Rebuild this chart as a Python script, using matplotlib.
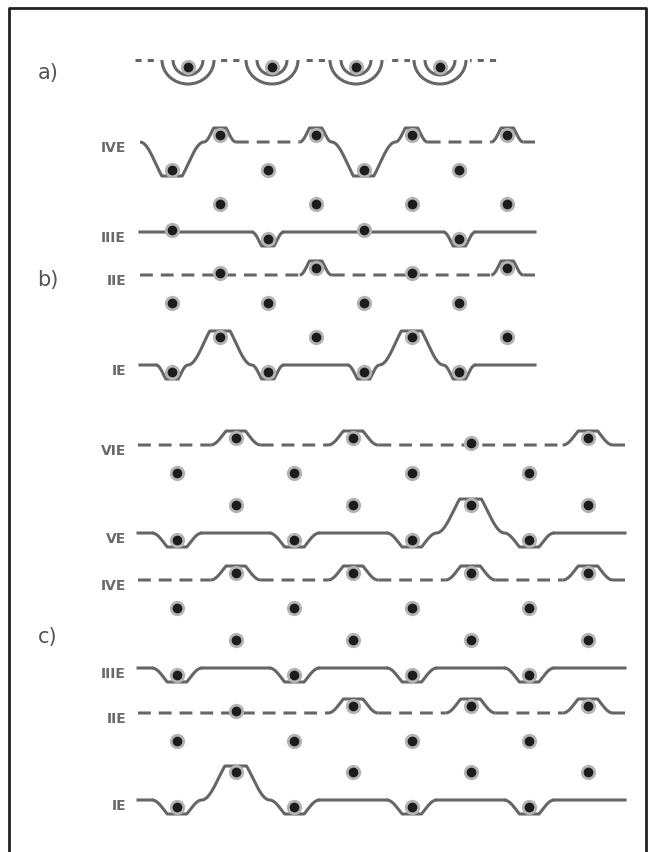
import numpy as np
import matplotlib
matplotlib.use("Agg")
import matplotlib.pyplot as plt
from matplotlib.patches import Arc

# ── Diagram content ──────────────────────────────────────────────────────────
# one character per beat:
#   'n' dot on the line with a small notch, 'o' dot sitting on the line,
#   'X' line makes an excursion to a dot on the other level, '.' free dot on the other level
B_LABELS = ["IVE", "IIIE", "IIE", "IE"]
B_PATTERNS = ["Xn.nXn.n", "o.n.o.n.", ".o.n.o.n", "nXn.nXn."]
B_DASHED = [True, False, True, False]

C_LABELS = ["VIE", "VE", "IVE", "IIIE", "IIE", "IE"]
C_PATTERNS = [".n.n.o.n", "n.n.nXn.", ".n.n.n.n", "n.n.n.n.", ".o.n.n.n", "nXn.n.n."]
C_DASHED = [True, False, True, False, True, False]

A_UNITS = 4
PANEL_LABELS = ["a)", "b)", "c)"]

# ── Layout (pixels) ──────────────────────────────────────────────────────────
W, H = 655, 852
LINE_C = "#666666"
DOT_C = "#1c1c1c"
LW = 2.2

B_ROW_Y = [142, 232, 275, 365]
C_ROW_Y = [445, 533, 580, 668, 713, 800]


def bump(u, k=1.35):
    u = np.asarray(u)
    f = np.clip(k * (0.5 + 0.5 * np.cos(np.pi * np.clip(u, -1, 1))), 0, 1)
    return np.where(np.abs(u) < 1, f, 0.0)


def draw_row(ax, label, pattern, dashed, yb, x0, step, xa, xb, n_hw, x_hw, gap):
    xs = x0 + step * np.arange(len(pattern))
    s = -1 if dashed else 1          # notch direction (pixel y grows downward)
    yo = yb - s * gap                # other level
    ext = yo - s * 6                 # extreme of an excursion

    xx = np.linspace(xa, xb, 1500)
    dy = np.zeros_like(xx)
    for xc, ev in zip(xs, pattern):
        if ev == "n":
            dy += s * 14 * bump((xx - xc) / n_hw, 1.5)
        elif ev == "X":
            dy += (ext - yb) * bump((xx - xc) / x_hw, 1.3)
    bent = np.abs(dy) > 1e-6
    shaped = bent | np.roll(bent, 1) | np.roll(bent, -1)
    yy = yb + dy
    ax.plot(xx, np.where(shaped, yy, np.nan), color=LINE_C, lw=LW,
            solid_capstyle="butt", zorder=2)
    flat = np.where(~bent, yb, np.nan)
    if dashed:
        ax.plot(xx, flat, color=LINE_C, lw=LW, dashes=(4.2, 2.6), zorder=2)
    else:
        ax.plot(xx, flat, color=LINE_C, lw=LW, zorder=2)

    for xc, ev in zip(xs, pattern):
        if ev == "n":
            yd = yb + s * 7
        elif ev == "o":
            yd = yb - 2
        else:
            yd = yo
        ax.plot(xc, yd, "o", ms=11, color="#b4b4b4", mec="none", zorder=3)
        ax.plot(xc, yd, "o", ms=7, color=DOT_C, mec="none", zorder=4)

    ax.text(126, yb + 6, label, ha="right", va="center", fontsize=10,
            fontweight="bold", color="#6a6a6a")


fig = plt.figure(figsize=(W / 100, H / 100), dpi=100)
ax = fig.add_axes([0, 0, 1, 1])
ax.set_xlim(0, W)
ax.set_ylim(H, 0)
ax.axis("off")

# frame
ax.plot([9, 9, 646, 646], [H, 8, 8, H], color="#222222", lw=2.0)

# ── a) ───────────────────────────────────────────────────────────────────────
ya = 60
ax.plot([135, 500], [ya, ya], color=LINE_C, lw=LW, dashes=(2, 2), zorder=1)
for i in range(A_UNITS):
    cx = 188 + 84 * i
    ax.plot([cx - 27, cx + 27], [ya, ya], color="white", lw=LW + 2, zorder=1.5)
    # y axis is inverted, so 0..180 opens downward on screen
    ax.add_patch(Arc((cx, ya), 52, 48, theta1=0, theta2=180, color=LINE_C,
                     lw=LW, zorder=2))
    ax.add_patch(Arc((cx, ya), 30, 30, theta1=0, theta2=180, color=LINE_C,
                     lw=LW, zorder=2))
    ax.plot(cx, ya + 7, "o", ms=11, color="#b4b4b4", mec="none", zorder=3)
    ax.plot(cx, ya + 7, "o", ms=7, color=DOT_C, mec="none", zorder=4)

# ── b) ───────────────────────────────────────────────────────────────────────
for lab, pat, dsh, yb in zip(B_LABELS, B_PATTERNS, B_DASHED, B_ROW_Y):
    draw_row(ax, lab, pat, dsh, yb, x0=172, step=47.9, xa=140, xb=535,
             n_hw=16, x_hw=32, gap=28)

# ── c) ───────────────────────────────────────────────────────────────────────
for lab, pat, dsh, yb in zip(C_LABELS, C_PATTERNS, C_DASHED, C_ROW_Y):
    draw_row(ax, lab, pat, dsh, yb, x0=177, step=58.7, xa=138, xb=625,
             n_hw=25, x_hw=34, gap=28)

for lab, (x, y) in zip(PANEL_LABELS, [(48, 73), (48, 280), (48, 637)]):
    ax.text(x, y, lab, ha="center", va="center", fontsize=15, color="#555555")

fig.savefig("out.png", dpi=100)
